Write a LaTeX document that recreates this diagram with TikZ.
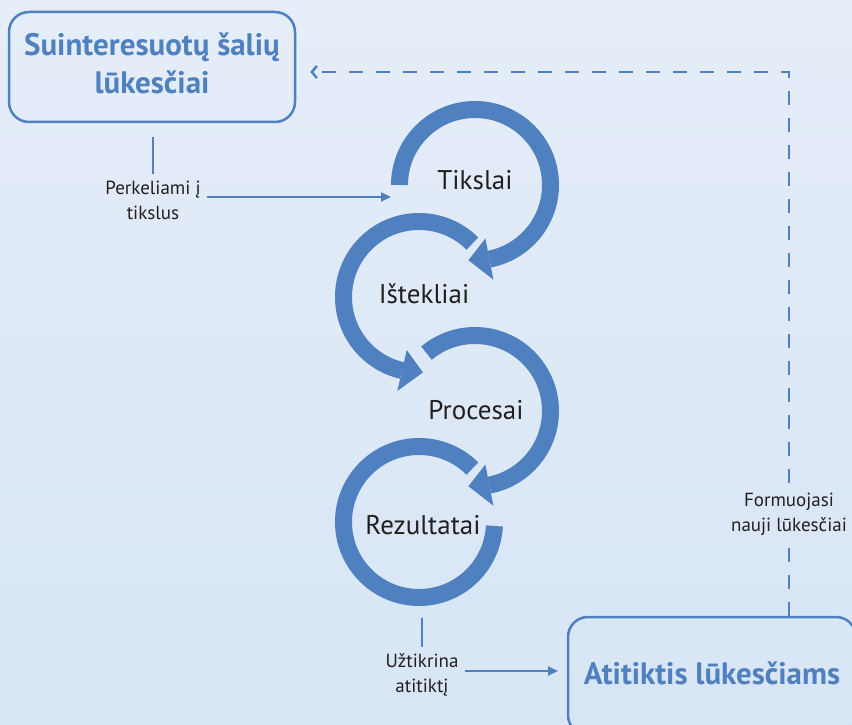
\documentclass[tikz,border=0pt]{standalone}
\usepackage{fontspec}
\setmainfont{PT Sans}
\usetikzlibrary{arrows.meta}
\definecolor{blu}{RGB}{79,129,192}
\definecolor{txt}{RGB}{35,31,32}
\definecolor{bgtop}{RGB}{229,237,248}
\definecolor{bgbot}{RGB}{215,229,245}
\begin{document}
\begin{tikzpicture}[x=1pt,y=1pt,
  boxnode/.style={draw=blu, line width=2.5pt, rounded corners=20pt, align=center, text=blu,
    font=\fontsize{31}{38}\selectfont\bfseries, inner sep=0pt},
  ringlab/.style={text=txt, font=\fontsize{27}{32}\selectfont, inner sep=0pt},
  smalllab/.style={text=txt, font=\fontsize{19}{25}\selectfont, align=center, inner sep=2pt},
  ring/.style={draw=blu, line width=17pt},
  head/.style={fill=blu},
  conn/.style={draw=blu, line width=2pt},
  arr/.style={conn, -{Triangle[length=10pt,width=9pt]}},
  dashline/.style={draw=blu, line width=2.5pt, dash pattern=on 14pt off 13pt},
]
\useasboundingbox (0,0) rectangle (852,724);
\shade[top color=bgtop, bottom color=bgbot] (0,0) rectangle (852,724);
\begin{scope}
\clip (0,0) rectangle (852,724);

% boxes
\node[boxnode, minimum width=286pt, minimum height=110pt] (sl) at (152,657)
  {\raisebox{-4pt}{\begin{tabular}{@{}c@{}}Suinteresuotų šalių\\lūkesčiai\end{tabular}}};
\node[boxnode, minimum width=288pt, minimum height=118pt] (bb) at (712,48)
  {\raisebox{6pt}{Atitiktis lūkesčiams}};

% ring centres
\coordinate (c1) at (475,539);
\coordinate (c2) at (419,427);
\coordinate (c3) at (475,313);
\coordinate (c4) at (419,202);

% ring 1 (clockwise)
\draw[ring] ([shift={(180:75.5)}]c1) arc[start angle=180, end angle=-79, radius=75.5];
\fill[head] ([shift={(-79:54.5)}]c1) -- ([shift={(-79:96.5)}]c1) -- ([shift={(-95:75.5)}]c1) -- cycle;
% ring 2 (counter-clockwise)
\draw[ring] ([shift={(45:75.5)}]c2) arc[start angle=45, end angle=257, radius=75.5];
\fill[head] ([shift={(257:54.5)}]c2) -- ([shift={(257:96.5)}]c2) -- ([shift={(273:75.5)}]c2) -- cycle;
% ring 3 (clockwise)
\draw[ring] ([shift={(130:75.5)}]c3) arc[start angle=130, end angle=-79, radius=75.5];
\fill[head] ([shift={(-79:54.5)}]c3) -- ([shift={(-79:96.5)}]c3) -- ([shift={(-95:75.5)}]c3) -- cycle;
% ring 4 (counter-clockwise, no head)
\draw[ring] ([shift={(45:75.5)}]c4) arc[start angle=45, end angle=357, radius=75.5];

% ring labels
\node[ringlab] (t1) at (475,544) {Tikslai};
\node[ringlab] (t2) at (424,430) {Ištekliai};
\node[ringlab] (t3) at (476,314) {Procesai};
\node[ringlab] (t4) at (423,199) {Rezultatai};

% left label and arrow into ring 1
\node[smalllab] (pl) at (153,524) {Perkeliami į\\tikslus};
\coordinate (pltop) at (153,587);
\draw[conn] (pltop) -- ([yshift=4pt]pl.north);
\coordinate (r1in) at (391,527);
\draw[arr] ([xshift=4pt]pl.east |- r1in) -- (r1in);

% bottom label and arrow into box
\node[smalllab] (ul) at (422,49) {Užtikrina\\atitiktį};
\coordinate (r4out) at (422,106);
\draw[conn] (r4out) -- ([yshift=4pt]ul.north);
\coordinate (bbin) at (558,53);
\draw[arr] ([xshift=4pt]ul.east |- bbin) -- (bbin);

% dashed feedback
\node[smalllab, inner ysep=10pt] (fl) at (789,210) {Formuojasi\\nauji lūkesčiai};
\coordinate (corner) at (789,652);
\draw[dashline] (bb.north -| fl) -- (fl.south);
\draw[dashline, -{Straight Barb[length=5pt,width=12pt]}] (fl.north) -- (corner) -- ([xshift=14pt]sl.east |- corner);
\end{scope}
\end{tikzpicture}
\end{document}
